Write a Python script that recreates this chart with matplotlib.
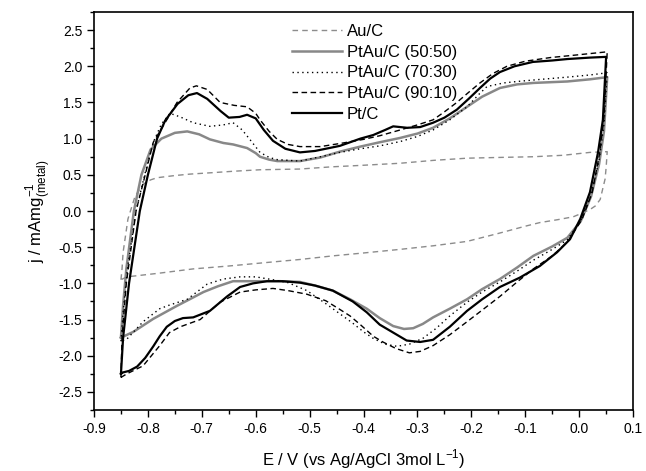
import matplotlib.pyplot as plt
from matplotlib.ticker import MultipleLocator

plt.rcParams['font.family'] = ['Liberation Sans', 'DejaVu Sans']

# Au/C
au_E = [-0.850, -0.848, -0.846, -0.837, -0.824, -0.809, -0.795, -0.783, -0.750, -0.722, -0.680, -0.640,
        -0.592, -0.518, -0.460, -0.406, -0.332, -0.270, -0.208, -0.150, -0.085, -0.030, 0.020, 0.052,
        0.052, 0.050, 0.048, 0.039, 0.030, 0.020, 0.002, -0.011, -0.040, -0.073, -0.100, -0.150,
        -0.208, -0.270, -0.332, -0.400, -0.457, -0.518, -0.592, -0.650, -0.716, -0.780, -0.839, -0.850]
au_j = [-0.95, -0.80, -0.57, -0.11, 0.20, 0.37, 0.43, 0.46, 0.49, 0.51, 0.53, 0.55,
        0.57, 0.58, 0.61, 0.63, 0.66, 0.70, 0.73, 0.74, 0.75, 0.77, 0.81, 0.82,
        0.82, 0.60, 0.44, 0.16, 0.07, 0.02, -0.04, -0.08, -0.12, -0.16, -0.21, -0.31,
        -0.42, -0.48, -0.53, -0.58, -0.62, -0.67, -0.72, -0.76, -0.80, -0.86, -0.91, -0.95]

# PtAu/C (50:50)
p50_E = [-0.850, -0.846, -0.840, -0.826, -0.812, -0.795, -0.775, -0.750, -0.727, -0.705, -0.685, -0.660,
         -0.642, -0.616, -0.600, -0.592, -0.575, -0.560, -0.518, -0.480, -0.444, -0.406, -0.370, -0.332,
         -0.300, -0.271, -0.240, -0.208, -0.180, -0.147, -0.115, -0.085, -0.022, 0.020, 0.052,
         0.052, 0.046, 0.037, 0.022, 0.003, -0.022, -0.050, -0.085, -0.115, -0.147, -0.180, -0.208,
         -0.240, -0.271, -0.290, -0.308, -0.325, -0.345, -0.370, -0.394, -0.425, -0.457, -0.490, -0.518,
         -0.555, -0.592, -0.642, -0.670, -0.697, -0.720, -0.746, -0.790, -0.827, -0.850]
p50_j = [-1.75, -1.30, -0.80, 0.00, 0.50, 0.85, 1.00, 1.08, 1.10, 1.06, 0.99, 0.94,
         0.92, 0.87, 0.80, 0.75, 0.71, 0.69, 0.69, 0.74, 0.82, 0.89, 0.95, 1.01,
         1.07, 1.15, 1.28, 1.44, 1.58, 1.70, 1.75, 1.77, 1.79, 1.82, 1.85,
         1.85, 1.10, 0.65, 0.20, -0.14, -0.37, -0.49, -0.62, -0.78, -0.94, -1.08, -1.22,
         -1.35, -1.47, -1.56, -1.62, -1.63, -1.59, -1.48, -1.35, -1.22, -1.10, -1.03, -0.98,
         -0.97, -0.97, -0.97, -1.04, -1.12, -1.21, -1.31, -1.49, -1.67, -1.75]

# PtAu/C (70:30)
p70_E = [-0.850, -0.846, -0.838, -0.822, -0.806, -0.790, -0.775, -0.759, -0.740, -0.716, -0.685, -0.660,
         -0.642, -0.625, -0.611, -0.592, -0.575, -0.560, -0.518, -0.480, -0.444, -0.406, -0.370, -0.332,
         -0.300, -0.271, -0.240, -0.208, -0.185, -0.171, -0.140, -0.115, -0.070, -0.022, 0.020, 0.052,
         0.052, 0.046, 0.037, 0.022, 0.003, -0.022, -0.050, -0.085, -0.115, -0.147, -0.180, -0.208,
         -0.240, -0.265, -0.290, -0.315, -0.338, -0.360, -0.382, -0.400, -0.420, -0.444, -0.470, -0.505,
         -0.540, -0.568, -0.600, -0.629, -0.660, -0.690, -0.727, -0.760, -0.778, -0.809, -0.839, -0.850]
p70_j = [-1.80, -1.40, -0.80, 0.00, 0.50, 0.95, 1.20, 1.35, 1.30, 1.22, 1.17, 1.19,
         1.22, 1.12, 0.99, 0.81, 0.74, 0.71, 0.69, 0.75, 0.81, 0.86, 0.90, 0.96,
         1.03, 1.12, 1.26, 1.44, 1.62, 1.72, 1.77, 1.79, 1.82, 1.85, 1.88, 1.91,
         1.91, 1.20, 0.70, 0.22, -0.13, -0.40, -0.53, -0.68, -0.83, -0.98, -1.12, -1.26,
         -1.45, -1.62, -1.76, -1.84, -1.87, -1.84, -1.76, -1.67, -1.55, -1.42, -1.28, -1.10,
         -0.99, -0.95, -0.91, -0.91, -0.94, -1.01, -1.22, -1.30, -1.35, -1.53, -1.77, -1.80]

# PtAu/C (90:10)
p90_E = [-0.850, -0.848, -0.840, -0.822, -0.805, -0.790, -0.765, -0.746, -0.722, -0.710, -0.690, -0.666,
         -0.640, -0.616, -0.600, -0.592, -0.575, -0.560, -0.540, -0.518, -0.480, -0.438, -0.400, -0.370,
         -0.332, -0.300, -0.271, -0.250, -0.227, -0.205, -0.184, -0.160, -0.134, -0.100, -0.054, 0.000, 0.052,
         0.052, 0.046, 0.038, 0.024, 0.005, -0.022, -0.050, -0.085, -0.115, -0.147, -0.180, -0.208,
         -0.240, -0.271, -0.295, -0.315, -0.340, -0.364, -0.382, -0.406, -0.425, -0.444, -0.470, -0.505,
         -0.540, -0.568, -0.600, -0.629, -0.666, -0.703, -0.740, -0.760, -0.778, -0.809, -0.839, -0.850]
p90_j = [-2.30, -1.75, -1.00, 0.00, 0.50, 0.95, 1.26, 1.50, 1.70, 1.73, 1.68, 1.50,
         1.46, 1.44, 1.35, 1.26, 1.10, 0.99, 0.92, 0.89, 0.89, 0.94, 0.99, 1.04,
         1.12, 1.19, 1.26, 1.37, 1.50, 1.64, 1.77, 1.90, 2.00, 2.07, 2.12, 2.16, 2.20,
         2.20, 1.30, 0.80, 0.25, -0.12, -0.43, -0.62, -0.80, -0.98, -1.18, -1.37, -1.53,
         -1.71, -1.86, -1.94, -1.96, -1.90, -1.81, -1.73, -1.57, -1.45, -1.36, -1.24, -1.15,
         -1.10, -1.07, -1.09, -1.12, -1.26, -1.50, -1.60, -1.68, -1.86, -2.14, -2.25, -2.30]

# Pt/C
pt_E = [-0.850, -0.846, -0.835, -0.815, -0.800, -0.783, -0.768, -0.745, -0.725, -0.709, -0.690, -0.665,
        -0.650, -0.630, -0.616, -0.600, -0.585, -0.568, -0.545, -0.518, -0.490, -0.444, -0.406, -0.382,
        -0.360, -0.345, -0.319, -0.295, -0.271, -0.250, -0.227, -0.205, -0.184, -0.165, -0.147, -0.120,
        -0.086, -0.050, -0.022, 0.020, 0.050,
        0.050, 0.044, 0.035, 0.020, 0.002, -0.017, -0.041, -0.073, -0.110, -0.147, -0.180, -0.208,
        -0.240, -0.271, -0.295, -0.320, -0.345, -0.370, -0.394, -0.420, -0.457, -0.490, -0.518, -0.550,
        -0.579, -0.605, -0.629, -0.653, -0.685, -0.716, -0.735, -0.750, -0.765, -0.778, -0.790, -0.805,
        -0.820, -0.835, -0.846, -0.850]
pt_j = [-2.25, -1.75, -1.00, 0.00, 0.50, 1.00, 1.25, 1.48, 1.60, 1.63, 1.55, 1.38,
        1.29, 1.30, 1.33, 1.28, 1.12, 0.97, 0.86, 0.81, 0.83, 0.90, 1.00, 1.05,
        1.12, 1.17, 1.15, 1.16, 1.22, 1.29, 1.40, 1.55, 1.70, 1.83, 1.92, 2.00,
        2.06, 2.08, 2.10, 2.12, 2.13,
        2.13, 1.26, 0.81, 0.26, -0.11, -0.39, -0.57, -0.76, -0.92, -1.05, -1.22, -1.38,
        -1.60, -1.78, -1.81, -1.79, -1.68, -1.57, -1.40, -1.25, -1.10, -1.03, -0.99, -0.97,
        -0.97, -1.00, -1.05, -1.18, -1.38, -1.47, -1.48, -1.52, -1.60, -1.73, -1.87, -2.03,
        -2.15, -2.21, -2.23, -2.25]

fig = plt.figure(figsize=(6.46, 4.71), dpi=100)
ax = fig.add_axes([0.1455, 0.1295, 0.8345, 0.845])

ax.plot(au_E, au_j, color='#8c8c8c', lw=1.0, ls=(0, (4, 3)), label='Au/C')
ax.plot(p50_E, p50_j, color='#888888', lw=1.8, label='PtAu/C (50:50)')
ax.plot(p70_E, p70_j, color='black', lw=1.0, ls=(0, (1, 2.5)), label='PtAu/C (70:30)')
ax.plot(p90_E, p90_j, color='black', lw=1.0, ls=(0, (4, 2.5)), label='PtAu/C (90:10)')
ax.plot(pt_E, pt_j, color='black', lw=1.6, label='Pt/C')

ax.set_xlim(-0.9, 0.1)
ax.set_ylim(-2.75, 2.75)
ax.xaxis.set_major_locator(MultipleLocator(0.1))
ax.xaxis.set_minor_locator(MultipleLocator(0.05))
ax.yaxis.set_major_locator(MultipleLocator(0.5))
ax.yaxis.set_minor_locator(MultipleLocator(0.25))
ax.tick_params(which='both', direction='out', top=False, right=False, labelsize=10)
ax.tick_params(which='major', length=5, width=1)
ax.tick_params(which='minor', length=3, width=1)
ax.xaxis.set_major_formatter(plt.FuncFormatter(lambda v, p: f'{v:.1f}'))
ax.yaxis.set_major_formatter(plt.FuncFormatter(lambda v, p: f'{v:.1f}'))
for s in ax.spines.values():
    s.set_linewidth(1.2)

ax.set_xlabel(r'E / V (vs Ag/AgCl 3mol L$^{\mathregular{-1}}$)', fontsize=12, labelpad=8)
ax.set_ylabel(r'j / mAmg$^{\mathregular{-1}}_{\mathregular{(metal)}}$', fontsize=12, labelpad=4)

ax.legend(loc='upper center', bbox_to_anchor=(0.52, 1.0), frameon=False, fontsize=12,
          handlelength=3.0, handletextpad=0.3, labelspacing=0.35, borderaxespad=0.3)

fig.savefig('out.png', dpi=100)
